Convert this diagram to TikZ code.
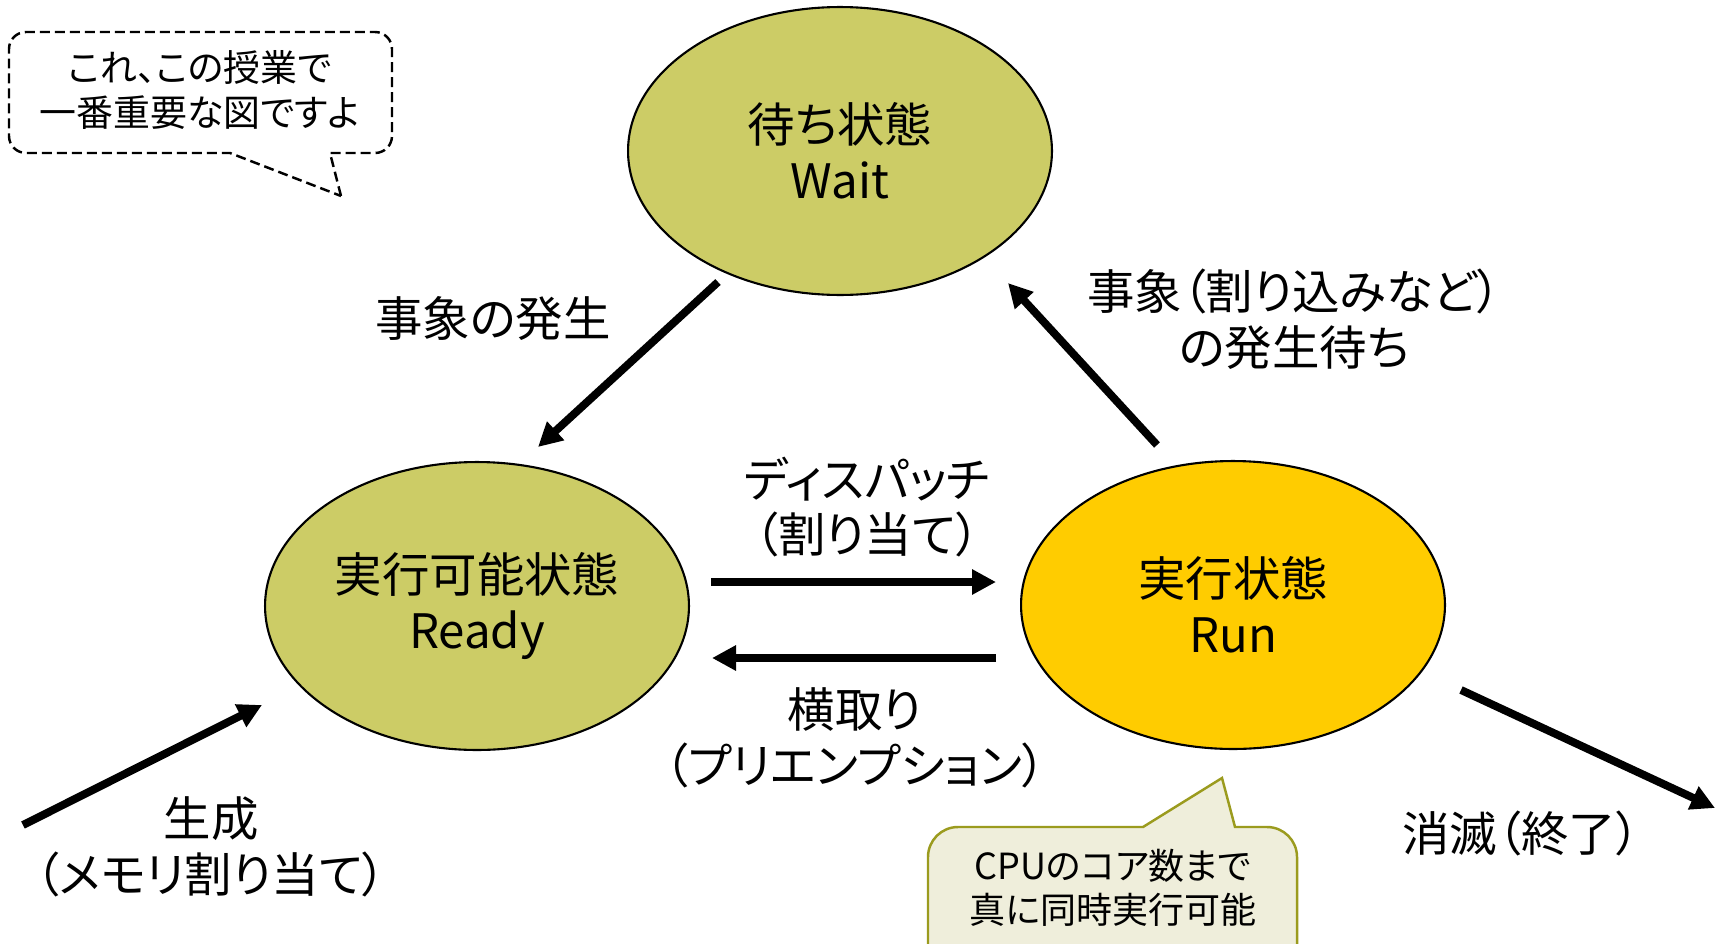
\documentclass[tikz,border=0pt]{standalone}
\usepackage{fontspec}
\setmainfont[RawFeature={+palt}]{Noto Sans CJK JP}
\usepackage{xcolor}
\usetikzlibrary{shapes.geometric, arrows.meta, calc}
\definecolor{olivefill}{RGB}{204,204,102}
\definecolor{runfill}{RGB}{255,204,0}
\definecolor{notefill}{RGB}{239,238,219}
\definecolor{noteline}{RGB}{155,155,30}
\newcommand*{\bigtxt}{\fontsize{27}{31.8}\selectfont}
\newcommand*{\smalltxt}{\fontsize{20.5}{25}\selectfont}
\tikzset{
  state/.style={ellipse, draw, line width=1.2pt, minimum width=8.48cm,
    minimum height=5.76cm, inner sep=0pt, align=center, font=\bigtxt},
  lbl/.style={align=center, font=\bigtxt, inner sep=0pt},
  note/.style={align=center, font=\smalltxt, inner sep=0pt},
  flow/.style={line width=4.5pt, -{Triangle[length=0.48cm, width=0.48cm]}},
}
\begin{document}
\begin{tikzpicture}[x=0.02cm, y=-0.02cm]
            \clip (0, 0) rectangle (1723, 943);

            % the three states
            \node[state, fill=olivefill] (wait) at (840, 151) {待ち状態\\Wait};
            \node[state, fill=olivefill] (ready) at (477, 606) {実行可能状態\\Ready};
            \node[state, fill=runfill] (run) at (1233, 605) {実行状態\\Run};

            \coordinate (born) at (23, 825);
            \coordinate (gone) at (1715, 808);

            % transitions
            \draw[flow] ([shift={(-122, 131)}]wait.center) -- ([shift={(61, -159)}]ready.center);
            \draw[flow] ([shift={(-76, -160)}]run.center) -- ([shift={(168, 132)}]wait.center);
            \draw[flow] ([shift={(21, -24)}]ready.east) -- ([shift={(-24, -23)}]run.west);
            \draw[flow] ([shift={(-24, 53)}]run.west) -- ([shift={(22, 52)}]ready.east);
            \draw[flow] (born) -- ([shift={(-2, 99)}]ready.west);
            \draw[flow] ([shift={(15, 85)}]run.east) -- (gone);

            \node[lbl] (occur) at (493, 318) {事象の発生};
            \node[lbl] (waitfor) at (1294, 319) {事象（割り込みなど）\\の発生待ち};
            \node[lbl] (dispatch) at (867, 507) {ディスパッチ\\（割り当て）};
            \node[lbl] (preempt) at (855, 738) {横取り\\（プリエンプション）};
            \node[lbl] (create) at (211, 847) {生成\\（メモリ割り当て）};
            \node[lbl] (finish) at (1521, 833) {消滅（終了）};

            % speech bubbles
            \draw[line width=1.4pt, dash pattern=on 0.2cm off 0.1cm]
              (341, 196) -- (330, 153) [rounded corners=0.34cm] -- (392, 153) -- (392, 32)
              -- (9, 32) -- (9, 153) [sharp corners] -- (230, 153) -- cycle;
            \node[note, font=\fontsize{21}{26}\selectfont] (important) at (200, 90) {これ、この授業で\\一番重要な図ですよ};

            \draw[line width=1.4pt, draw=noteline, fill=notefill]
              (1222, 778) -- (1235, 827) [rounded corners=0.6cm] -- (1297, 827) -- (1297, 990)
              -- (928, 990) -- (928, 827) [sharp corners] -- (1143, 827) -- cycle;
            \node[note] (cores) at (1113, 888) {CPUのコア数まで\\真に同時実行可能};
        \end{tikzpicture}
\end{document}
